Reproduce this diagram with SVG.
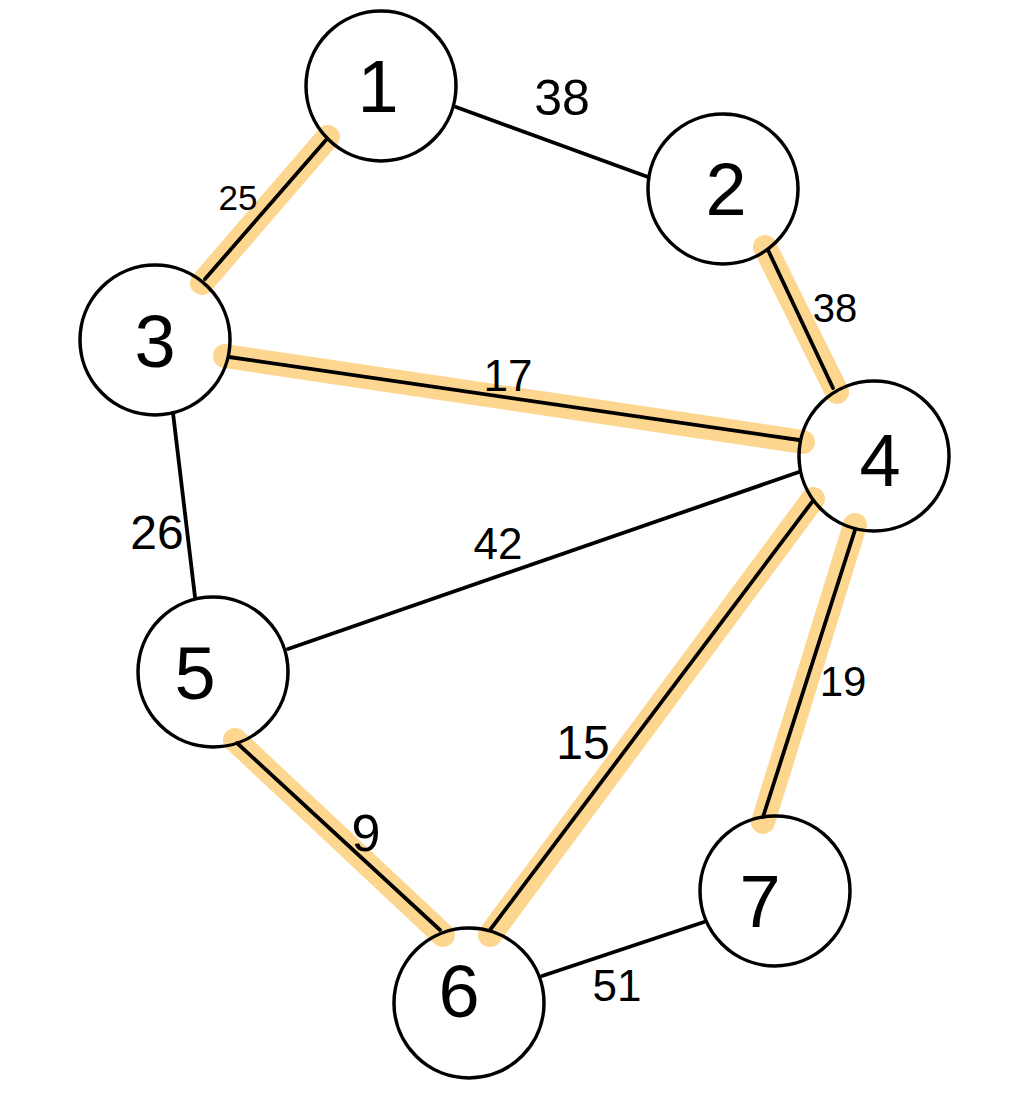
<svg xmlns="http://www.w3.org/2000/svg" width="1014" height="1104" viewBox="0 0 1014 1104">
<style>
.hl{stroke:#FDD690;stroke-width:24;stroke-linecap:round;fill:none}
.ln{stroke:#000;stroke-width:3.8;stroke-linecap:round;fill:none}
.nd{fill:none;stroke:#000;stroke-width:3.5}
.nt{font-family:"Liberation Sans",Arial,sans-serif;font-size:74px;fill:#000;text-anchor:middle}
.et{font-family:"Liberation Sans",Arial,sans-serif;fill:#000;text-anchor:middle}
</style>
<rect width="1014" height="1104" fill="#fff"/>
<g id="connectors">
  <g id="e1-2"><line class="ln" x1="456" y1="107" x2="648" y2="177"/><text class="et" x="562" y="115" font-size="50">38</text></g>
  <g id="e1-3"><line class="hl" x1="328" y1="137" x2="202" y2="283"/><line class="ln" x1="326" y1="140" x2="205" y2="279"/><text class="et" x="238" y="210" font-size="35">25</text></g>
  <g id="e2-4"><line class="hl" x1="765" y1="247" x2="837" y2="392"/><line class="ln" x1="768" y1="250" x2="833" y2="388"/><text class="et" x="835" y="322" font-size="40">38</text></g>
  <g id="e3-4"><line class="hl" x1="225" y1="356" x2="803" y2="442"/><line class="ln" x1="229" y1="357" x2="799" y2="440"/><text class="et" x="508" y="391" font-size="44">17</text></g>
  <g id="e3-5"><line class="ln" x1="173" y1="413" x2="195" y2="597"/><text class="et" x="157" y="549" font-size="48">26</text></g>
  <g id="e4-5"><line class="ln" x1="799" y1="472" x2="288" y2="649"/><text class="et" x="498" y="559" font-size="44">42</text></g>
  <g id="e4-6"><line class="hl" x1="813" y1="499" x2="490" y2="935"/><line class="ln" x1="812" y1="502" x2="490" y2="930"/><text class="et" x="583" y="759" font-size="48">15</text></g>
  <g id="e4-7"><line class="hl" x1="855" y1="525" x2="763" y2="822"/><line class="ln" x1="855" y1="530" x2="763" y2="817"/><text class="et" x="843" y="696" font-size="42">19</text></g>
  <g id="e5-6"><line class="hl" x1="235" y1="740" x2="443" y2="935"/><line class="ln" x1="237" y1="743" x2="440" y2="930"/><text class="et" x="366" y="851" font-size="52">9</text></g>
  <g id="e6-7"><line class="ln" x1="542" y1="976" x2="704" y2="922"/><text class="et" x="617" y="1001" font-size="44">51</text></g>
</g>
<g id="node1"><circle class="nd" cx="381" cy="86" r="75"/><text class="nt" x="378" y="112">1</text></g>
<g id="node2"><circle class="nd" cx="723" cy="189" r="75"/><text class="nt" x="726" y="215">2</text></g>
<g id="node3"><circle class="nd" cx="155" cy="340" r="75"/><text class="nt" x="155" y="367">3</text></g>
<g id="node4"><circle class="nd" cx="874" cy="456" r="75"/><text class="nt" x="880" y="486" font-size="80">4</text></g>
<g id="node5"><circle class="nd" cx="213" cy="672" r="75"/><text class="nt" x="195" y="699">5</text></g>
<g id="node6"><circle class="nd" cx="469" cy="1003" r="75"/><text class="nt" x="459" y="1017">6</text></g>
<g id="node7"><circle class="nd" cx="775" cy="891" r="75"/><text class="nt" x="760" y="927">7</text></g>
</svg>
